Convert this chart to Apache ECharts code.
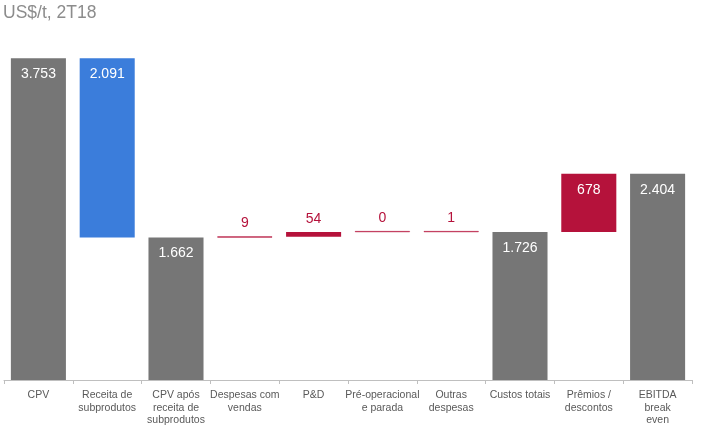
<!DOCTYPE html>
<html>
<head>
<meta charset="utf-8">
<script src="https://cdn.jsdelivr.net/npm/echarts@6/dist/echarts.min.js"></script>
<style>
html,body{margin:0;padding:0;background:#fff;}
#c{width:701px;height:438px;}
</style>
</head>
<body>
<div id="c"></div>
<script>
const categories = ['CPV', 'Receita de\nsubprodutos', 'CPV após\nreceita de\nsubprodutos', 'Despesas com\nvendas', 'P&D', 'Pré-operacional\ne parada', 'Outras\ndespesas', 'Custos totais', 'Prêmios /\ndescontos', 'EBITDA\nbreak\neven'];
const values = [3753, -2091, 1662, 9, 54, 0, 1, 1726, 678, 2404];
const kinds = ['total', 'delta', 'total', 'delta', 'delta', 'delta', 'delta', 'total', 'delta', 'total'];

const GRAY = '#767676', BLUE = '#3b7ddb', RED = '#b5123b';
const FONT = '"Liberation Sans", Arial, sans-serif';

const fmt = v => Math.abs(v).toString().replace(/\B(?=(\d{3})+(?!\d))/g, '.');

let running = 0;
const base = [], heights = [];
values.forEach((v, i) => {
  if (kinds[i] === 'total') {
    base.push(0); heights.push(v); running = v;
  } else {
    const lo = v < 0 ? running + v : running;
    base.push(lo); heights.push(Math.abs(v)); running += v;
  }
});

const items = heights.map((h, i) => {
  const isTotal = kinds[i] === 'total';
  const color = isTotal ? GRAY : (values[i] < 0 ? BLUE : RED);
  const big = h > 300;
  const tiny = h < 20;
  return {
    value: h,
    itemStyle: tiny ? { color: RED, borderColor: RED, borderWidth: 0.6 } : { color },
    label: {
      show: true,
      position: big ? 'insideTop' : 'top',
      distance: big ? 9 : 6,
      color: big ? '#ffffff' : RED,
      fontSize: 14,
      fontFamily: FONT,
      formatter: () => fmt(values[i])
    }
  };
});

const chart = echarts.init(document.getElementById('c'), null, { renderer: 'canvas' });
chart.setOption({
  animation: false,
  title: {
    text: 'US$/t, 2T18',
    left: -2, top: -1,
    textStyle: { color: '#8c8c8c', fontSize: 17.5, fontWeight: 'normal', fontFamily: FONT }
  },
  grid: { left: 4, right: 9, top: 37, bottom: 58, containLabel: false },
  xAxis: {
    type: 'category',
    data: categories,
    axisLine: { lineStyle: { color: '#bfbfbf', width: 1 } },
    axisTick: { show: true, length: 4, lineStyle: { color: '#bfbfbf' } },
    axisLabel: {
      interval: 0, color: '#595959', fontSize: 10.5, lineHeight: 12.5,
      fontFamily: FONT, margin: 9
    }
  },
  yAxis: {
    type: 'value', min: 0, max: 4000,
    show: false, splitLine: { show: false }
  },
  series: [
    {
      type: 'bar', stack: 'w', data: base,
      itemStyle: { color: 'transparent' },
      barCategoryGap: '20%', silent: true
    },
    {
      type: 'bar', stack: 'w', data: items,
      barCategoryGap: '20%', barMinHeight: 1
    }
  ]
});
</script>
</body>
</html>
